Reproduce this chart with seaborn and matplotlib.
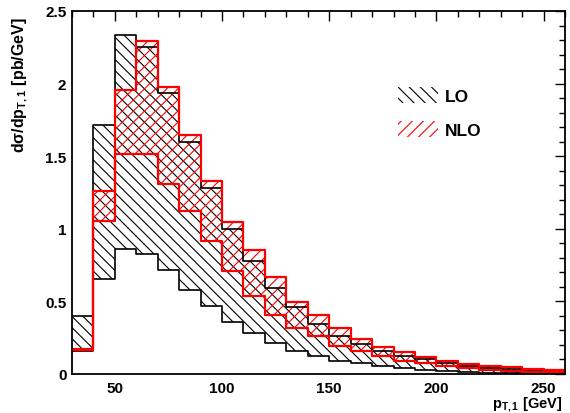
import numpy as np
import pandas as pd
import matplotlib
matplotlib.use("Agg")
import matplotlib.pyplot as plt
import seaborn as sns
from matplotlib.patches import Patch
from matplotlib.ticker import MultipleLocator, FixedLocator, FixedFormatter

# ---------------- data ----------------
pt_edges = [30, 40, 50, 60, 70, 80, 90, 100, 110, 120, 130, 140, 150, 160,
            170, 180, 190, 200, 210, 220, 230, 240, 250, 260]
lo_upper = [0.400, 1.717, 2.337, 2.254, 1.935, 1.596, 1.281, 0.999, 0.780,
            0.590, 0.459, 0.344, 0.264, 0.207, 0.161, 0.126, 0.103, 0.073,
            0.053, 0.041, 0.034, 0.023, 0.019]
lo_lower = [0.156, 0.654, 0.861, 0.826, 0.718, 0.581, 0.466, 0.360, 0.282,
            0.214, 0.156, 0.122, 0.092, 0.073, 0.053, 0.041, 0.030, 0.019,
            0.011, 0.007, 0.005, 0.004, 0.003]
nlo_upper = [0.175, 1.262, 1.956, 2.290, 1.979, 1.644, 1.331, 1.045, 0.854,
             0.670, 0.498, 0.406, 0.315, 0.241, 0.188, 0.154, 0.119, 0.087,
             0.069, 0.057, 0.046, 0.034, 0.027]
nlo_lower = [0.163, 1.051, 1.515, 1.515, 1.309, 1.125, 0.914, 0.707, 0.539,
             0.409, 0.317, 0.259, 0.195, 0.161, 0.122, 0.092, 0.073, 0.053,
             0.039, 0.030, 0.023, 0.016, 0.011]
series_names = ["LO", "NLO"]
ytick_values = [0, 0.5, 1, 1.5, 2, 2.5]
ytick_labels = ["0", "0.5", "1", "1.5", "2", "2.5"]
xtick_values = [50, 100, 150, 200, 250]

# ---------------- style ----------------
sns.set_theme(style="white")
plt.rcParams.update({
    "font.family": ["Liberation Sans", "DejaVu Sans"],
    "font.weight": "bold",
    "axes.labelweight": "bold",
    "text.color": "black",
    "axes.labelcolor": "black",
    "xtick.color": "black",
    "ytick.color": "black",
    "mathtext.fontset": "custom",
    "mathtext.rm": "Liberation Sans:bold",
    "mathtext.it": "Liberation Sans:bold",
    "mathtext.bf": "Liberation Sans:bold",
    "mathtext.sf": "Liberation Sans:bold",
    "mathtext.default": "rm",
    "hatch.linewidth": 0.8,
    "axes.edgecolor": "black",
    "axes.linewidth": 1.3,
})

fig = plt.figure(figsize=(5.7, 4.14), dpi=100)
fig.patch.set_facecolor("white")
ax = fig.add_axes([72 / 570, 1 - 375 / 414, 493 / 570, 363 / 414])
ax.set_facecolor("white")

edges = np.array(pt_edges, dtype=float)
centers = 0.5 * (edges[:-1] + edges[1:])

bands = [
    (series_names[0], np.array(lo_lower), np.array(lo_upper), "black", "\\\\\\", 1.2),
    (series_names[1], np.array(nlo_lower), np.array(nlo_upper), "#ff0000", "///", 1.6),
]

# hatched bands
for name, lo, hi, col, hatch, lw in bands:
    ax.fill_between(edges, np.append(lo, lo[-1]), np.append(hi, hi[-1]),
                    step="post", facecolor="none", edgecolor=col,
                    hatch=hatch, linewidth=0)

# step outlines through seaborn
for name, lo, hi, col, hatch, lw in bands:
    for vals in (hi, lo):
        df = pd.DataFrame({"pt": centers, "w": vals})
        sns.histplot(data=df, x="pt", weights="w", bins=list(pt_edges),
                     element="step", fill=False, color=col, linewidth=lw, ax=ax)

ax.set_xlim(30, 260)
ax.set_ylim(0, 2.5)

ax.xaxis.set_major_locator(FixedLocator(xtick_values))
ax.xaxis.set_minor_locator(MultipleLocator(10))
ax.yaxis.set_major_locator(FixedLocator(ytick_values))
ax.yaxis.set_major_formatter(FixedFormatter(ytick_labels))
ax.yaxis.set_minor_locator(MultipleLocator(0.1))
ax.tick_params(which="both", direction="in", top=True, right=True,
               color="black", width=1.0, labelsize=11, labelcolor="black")
ax.tick_params(which="major", length=7.2)
ax.tick_params(which="minor", length=4.0)
ax.tick_params(axis="x", which="major", pad=5)
ax.tick_params(axis="y", which="major", pad=4)
for lab in ax.get_xticklabels() + ax.get_yticklabels():
    lab.set_fontweight("bold")
for s in ax.spines.values():
    s.set_visible(True)
    s.set_color("black")
    s.set_linewidth(1.3)

ax.set_ylabel("dσ/dp$_{T,1}$ [pb/GeV]", loc="top", fontsize=11.5,
              fontweight="bold", color="black")
ax.yaxis.set_label_coords(-0.085, 0.986)
ax.set_xlabel("p$_{T,1}$ [GeV]", loc="right", fontsize=10.5,
              fontweight="bold", color="black")
ax.xaxis.set_label_coords(0.994, -0.058)

handles = [Patch(facecolor="none", edgecolor=b[3], hatch=b[4], linewidth=0,
                 label=b[0]) for b in bands]
leg = ax.legend(handles=handles, loc="upper left",
                bbox_to_anchor=(0.661, 0.79), frameon=False, borderpad=0,
                borderaxespad=0, handlelength=2.3, handleheight=1.0,
                handletextpad=0.4, labelspacing=1.0,
                prop={"family": "Liberation Sans", "weight": "bold", "size": 12.5})
for t in leg.get_texts():
    t.set_color("black")

fig.savefig("out.png", dpi=100, facecolor="white")
